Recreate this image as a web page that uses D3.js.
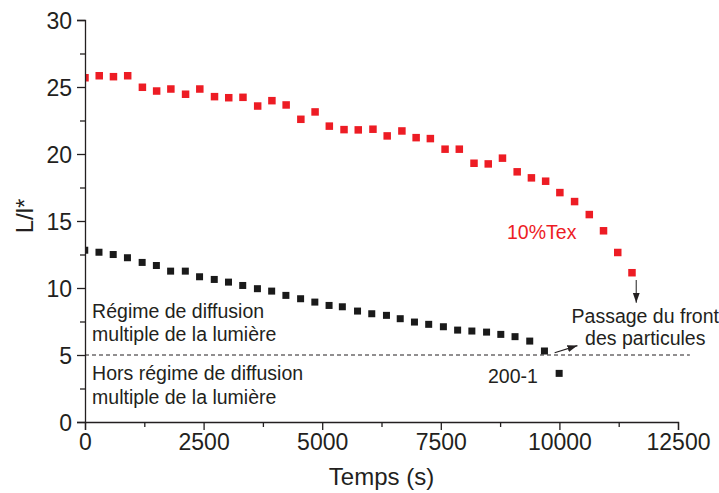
<!DOCTYPE html>
<html><head><meta charset="utf-8">
<script src="https://cdn.jsdelivr.net/npm/d3@7"></script>
<style>
html,body{margin:0;padding:0;background:#fff;}
svg{display:block;font-family:"Liberation Sans",Arial,Helvetica,sans-serif;}
</style></head>
<body><svg id="c" width="719" height="493"></svg>
<script>
// Time (s) of each measurement
const timeRed = [0,300,600,900,1210,1510,1810,2120,2420,2730,3030,3330,3640,3940,4240,4550,4850,5150,5460,5760,6070,6370,6680,6980,7280,7590,7890,8200,8500,8800,9110,9410,9710,10010,10320,10630,10930,11230,11530];
const valRed = [25.69,25.84,25.77,25.84,24.98,24.70,24.85,24.46,24.85,24.28,24.20,24.23,23.58,23.98,23.66,22.59,23.14,22.08,21.82,21.80,21.85,21.35,21.72,21.22,21.15,20.36,20.36,19.31,19.26,19.69,18.67,18.22,17.97,17.12,16.45,15.48,14.27,12.65,11.14];
const timeBlack = [0,300,600,900,1210,1510,1810,2120,2420,2730,3030,3330,3640,3940,4240,4550,4850,5150,5430,5750,6050,6360,6650,6950,7250,7560,7860,8160,8470,8770,9070,9380,9690,10000];
const valBlack = [12.80,12.65,12.48,12.24,11.89,11.66,11.24,11.24,10.82,10.62,10.42,10.17,9.93,9.75,9.43,9.18,8.93,8.68,8.58,8.26,8.06,7.94,7.69,7.44,7.27,7.09,6.84,6.77,6.69,6.52,6.35,6.02,5.28,3.61];
const xTicks = [0,2500,5000,7500,10000,12500];
const yTicks = [0,5,10,15,20,25,30];
const threshold = 5;

const svg = d3.select("#c");
const W = 719, H = 493;
const m = {left:85, right:41, top:20, bottom:71};
const x = d3.scaleLinear().domain([0,12500]).range([m.left, W-m.right]);
const y = d3.scaleLinear().domain([0,30]).range([H-m.bottom, m.top]);
const ink = "#231f20";

svg.append("defs").append("clipPath").attr("id","plot")
  .append("rect").attr("x",m.left).attr("y",m.top).attr("width",W-m.right-m.left+20).attr("height",H-m.bottom-m.top);
const mk = svg.select("defs").append("marker").attr("id","ah").attr("viewBox","0 0 10 10")
  .attr("refX",10).attr("refY",5).attr("markerWidth",10).attr("markerHeight",10)
  .attr("markerUnits","userSpaceOnUse").attr("orient","auto");
mk.append("path").attr("d","M0,1.5 L10,5 L0,8.5 Z").attr("fill",ink);

// threshold dashed line
svg.append("line").attr("x1",x(0)).attr("x2",x(12750)).attr("y1",y(threshold)).attr("y2",y(threshold))
  .attr("stroke",ink).attr("stroke-width",1).attr("stroke-dasharray","4,3");

// points
const sz = 7.5;
const g = svg.append("g").attr("clip-path","url(#plot)");
g.selectAll("rect.r").data(timeRed.map((t,i)=>[t,valRed[i]])).enter().append("rect")
  .attr("x",d=>x(d[0])-sz/2).attr("y",d=>y(d[1])-sz/2).attr("width",sz).attr("height",sz).attr("fill","#ed1c24");
g.selectAll("rect.b").data(timeBlack.map((t,i)=>[t,valBlack[i]])).enter().append("rect")
  .attr("x",d=>x(d[0])-sz/2).attr("y",d=>y(d[1])-sz/2).attr("width",sz-0.5).attr("height",sz-0.5).attr("fill","#1a1a1a");

// axes
const xa = svg.append("g").attr("transform",`translate(0,${y(0)})`);
xa.call(d3.axisBottom(x).tickValues(d3.range(0,12501,1250)).tickSize(8).tickFormat(d=>xTicks.includes(d)?d:""));
xa.selectAll(".tick line").attr("y2",d=>xTicks.includes(d)?8:5);
const ya = svg.append("g").attr("transform",`translate(${x(0)},0)`);
ya.call(d3.axisLeft(y).tickValues(d3.range(0,30.01,2.5)).tickSize(8).tickFormat(d=>yTicks.includes(d)?d:""));
ya.selectAll(".tick line").attr("x2",d=>yTicks.includes(d)?-8:-5);
[xa,ya].forEach(a=>{
  a.select(".domain").attr("stroke",ink).attr("stroke-width",1.3);
  a.selectAll(".tick line").attr("stroke",ink).attr("stroke-width",1.3);
  a.selectAll(".tick text").attr("fill",ink).attr("font-size",23).attr("font-family","Liberation Sans, Arial, sans-serif");
});
xa.selectAll(".tick text").attr("dy","0.72em").attr("y",11);
ya.selectAll(".tick text").attr("x",-13).attr("dy","0.36em");

// axis titles
svg.append("text").attr("x",(x(0)+x(12500))/2).attr("y",485).attr("text-anchor","middle")
  .attr("font-size",24).attr("fill",ink).text("Temps (s)");
svg.append("text").attr("transform",`translate(33,${(y(0)+y(30))/2-5}) rotate(-90)`).attr("text-anchor","middle")
  .attr("font-size",24).attr("fill",ink).text("L/l*");

// annotations
function label(lines, tx, vy, anchor, color, dyPx){
  const t = svg.append("text").attr("x",x(tx)).attr("y",y(vy)).attr("text-anchor",anchor)
    .attr("font-size",19.5).attr("fill",color);
  lines.forEach((s,i)=>t.append("tspan").attr("x",x(tx)).attr("dy",i?dyPx:0).text(s));
}
label(["Régime de diffusion","multiple de la lumière"],150,7.76,"start",ink,22.5);
label(["Hors régime de diffusion","multiple de la lumière"],150,3.13,"start",ink,23.5);
label(["10%Tex"],8896,13.66,"start","#ed1c24",0);
label(["Passage du front","des particules"],11810,7.39,"middle",ink,22);
label(["200-1"],8495,2.91,"start",ink,0);

// arrows
svg.append("line").attr("x1",x(11620)).attr("x2",x(11620)).attr("y1",y(10.6)).attr("y2",y(8.9))
  .attr("stroke","#444").attr("stroke-width",1.2).attr("marker-end","url(#ah)");
svg.append("line").attr("x1",x(9900)).attr("y1",y(5.17)).attr("x2",x(10380)).attr("y2",y(5.7))
  .attr("stroke",ink).attr("stroke-width",1.2).attr("marker-end","url(#ah)");
</script></body></html>
